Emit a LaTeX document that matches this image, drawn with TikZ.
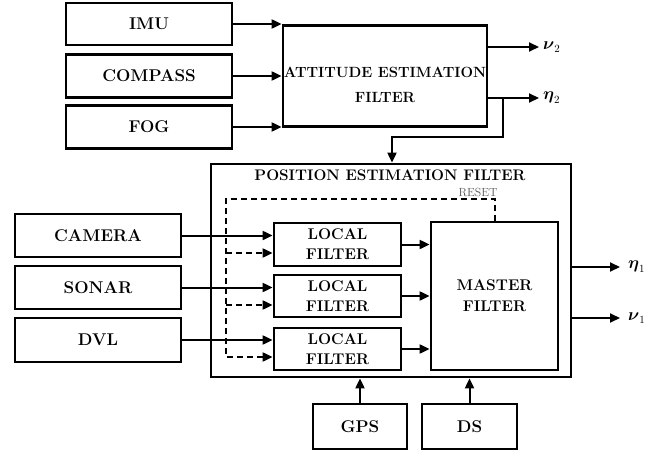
\documentclass[tikz,border=0pt]{standalone}
\usepackage{amsmath,amssymb}
\usepackage{tikz}
\usepackage{xcolor}
\usetikzlibrary{arrows.meta}

\begin{document}
\begin{tikzpicture}[x=1pt, y=-1pt,
    box/.style={rectangle, draw, line width=2.8pt, inner sep=0pt, align=center, font=\fontsize{17}{20}\selectfont\bfseries},
    arr/.style={line width=2pt, -{Triangle[length=10pt,width=9pt]}},
    dasharr/.style={arr, dash pattern=on 6pt off 4pt},
    lbl/.style={anchor=west, inner sep=0pt, font=\fontsize{16}{18}\selectfont}]
    \useasboundingbox (0,0) rectangle (658,452);

    % Attitude sensors
    \node[box, minimum width=166pt, minimum height=42pt] (imu) at (149,24) {IMU};
    \node[box, minimum width=166pt, minimum height=43pt] (compass) at (149,76) {COMPASS};
    \node[box, minimum width=166pt, minimum height=43pt] (fog) at (149,127) {FOG};

    % Attitude filter
    \node[box, minimum width=204pt, minimum height=101pt] (att) at (385,76) {};
    \node[align=center, font=\fontsize{14.8}{25}\selectfont\bfseries] (atttext) at (385,84.5) {ATTITUDE ESTIMATION\\FILTER};
    \node[lbl] (nu2) at (543,47) {$\boldsymbol{\nu}_2$};
    \node[lbl] (eta2) at (543,98) {$\boldsymbol{\eta}_2$};

    % Position filter
    \node[box, minimum width=360pt, minimum height=213pt] (pos) at (391,270.5) {};
    \node[font=\fontsize{15.3}{18}\selectfont\bfseries] (postitle) at (390,175) {POSITION ESTIMATION FILTER};
    \node[font=\fontsize{11.8}{14}\selectfont, text=black!65] (reset) at (478,192) {RESET};
    \node[box, minimum width=127pt, minimum height=43pt, font=\fontsize{15.5}{20}\selectfont\bfseries] (lf1) at (337.5,244.5) {LOCAL\\FILTER};
    \node[box, minimum width=127pt, minimum height=42pt, font=\fontsize{15.5}{20}\selectfont\bfseries] (lf2) at (337.5,296) {LOCAL\\FILTER};
    \node[box, minimum width=127pt, minimum height=42pt, font=\fontsize{15.5}{20}\selectfont\bfseries] (lf3) at (337.5,349) {LOCAL\\FILTER};
    \node[box, minimum width=127pt, minimum height=148pt, font=\fontsize{15.5}{21}\selectfont\bfseries] (master) at (494.5,296) {MASTER\\FILTER};
    \node[lbl] (eta1) at (628,267) {$\boldsymbol{\eta}_1$};
    \node[lbl] (nu1) at (628,318) {$\boldsymbol{\nu}_1$};

    % Position sensors
    \node[box, minimum width=166pt, minimum height=43pt] (camera) at (98,235.5) {CAMERA};
    \node[box, minimum width=166pt, minimum height=43pt] (sonar) at (98,287.5) {SONAR};
    \node[box, minimum width=166pt, minimum height=44pt] (dvl) at (98,340) {DVL};
    \node[box, minimum width=94pt, minimum height=45pt] (gps) at (360,426.5) {GPS};
    \node[box, minimum width=95pt, minimum height=45pt] (ds) at (469.5,426.5) {DS};

    \coordinate (split) at (503,98);
    \coordinate (bend) at (392,137);
    \coordinate (rtop) at (495,199);
    \coordinate (rleft) at (226,199);
    \coordinate (d1) at ([yshift=-8.5pt]lf1.west);
    \coordinate (d2) at ([yshift=-9pt]lf2.west);
    \coordinate (d3) at ([yshift=-8pt]lf3.west);

    \draw[arr] (imu.east) -- (imu.east -| att.west);
    \draw[arr] (compass.east) -- (compass.east -| att.west);
    \draw[arr] (fog.east) -- (fog.east -| att.west);
    \draw[arr] (att.east |- nu2) -- ([xshift=-4pt]nu2.west);
    \draw[arr] (att.east |- eta2) -- ([xshift=-4pt]eta2.west);
    \draw[arr] (split) |- (bend) -- (bend |- pos.north);

    \draw[arr] (camera.east) -- (camera.east -| lf1.west);
    \draw[arr] (sonar.east) -- (sonar.east -| lf2.west);
    \draw[arr] (dvl.east) -- (dvl.east -| lf3.west);
    \draw[dasharr] (master.north -| rtop) -- (rtop) -- (rleft) |- (d3);
    \draw[dasharr] (rleft |- d1) -- (d1);
    \draw[dasharr] (rleft |- d2) -- (d2);
    \draw[arr] (lf1.east) -- (lf1.east -| master.west);
    \draw[arr] (lf2.east) -- (lf2.east -| master.west);
    \draw[arr] (lf3.east) -- (lf3.east -| master.west);

    \draw[arr] (pos.east |- eta1) -- ([xshift=-8pt]eta1.west);
    \draw[arr] (pos.east |- nu1) -- ([xshift=-8pt]nu1.west);
    \draw[arr] (gps.north) -- (gps.north |- pos.south);
    \draw[arr] (ds.north) -- (ds.north |- pos.south);
\end{tikzpicture}
\end{document}
